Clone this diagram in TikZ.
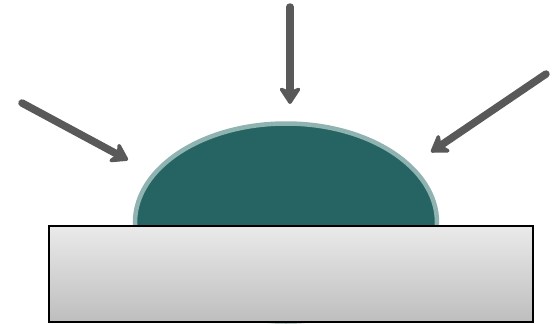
\documentclass[tikz,border=0pt]{standalone}
\usetikzlibrary{arrows.meta}
\definecolor{dropfill}{HTML}{256462}
\definecolor{dropedge}{HTML}{8FB3B0}
\definecolor{arrowgray}{HTML}{595959}
\definecolor{slabtop}{HTML}{EAEAEA}
\definecolor{slabbot}{HTML}{BEBEBE}
\tikzset{
  lightarrow/.style={draw=arrowgray, line width=7.5pt, line cap=round,
    -{Stealth[length=20pt, width=26pt, inset=6pt, round]}},
  slab/.style={draw=black, line width=1.6pt, top color=slabtop, bottom color=slabbot},
  drop/.style={fill=dropfill, draw=dropedge, line width=4.5pt}
}
\begin{document}
\begin{tikzpicture}[x=1pt,y=-1pt]
\useasboundingbox (0,0) rectangle (555,324);
\fill[drop] (286,222.5) ellipse [x radius=151, y radius=99];
\node[slab, minimum width=484pt, minimum height=96pt, inner sep=0pt, anchor=north west] (base) at (48,225) {};
\coordinate (l0) at (22,103);
\coordinate (l1) at (128,160);
\coordinate (t0) at (290,7);
\coordinate (t1) at (290,104);
\coordinate (r0) at (546,74);
\coordinate (r1) at (431,152);
\draw[lightarrow] (l0) -- (l1);
\draw[lightarrow] (t0) -- (t1);
\draw[lightarrow] (r0) -- (r1);
\end{tikzpicture}
\end{document}
